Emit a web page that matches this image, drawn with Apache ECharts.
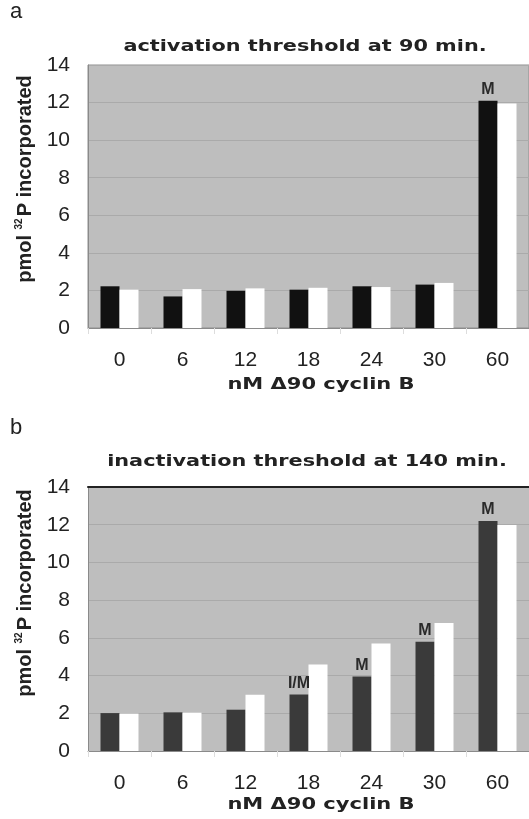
<!DOCTYPE html>
<html>
<head>
<meta charset="utf-8">
<script src="https://cdn.jsdelivr.net/npm/echarts@6/dist/echarts.min.js"></script>
<style>
html,body{margin:0;padding:0;background:#fff;}
#c{width:529px;height:819px;}
</style>
</head>
<body>
<div id="c"></div>
<script>
const categories = ['0', '6', '12', '18', '24', '30', '60'];
const activationDark = [2.22, 1.68, 1.98, 2.04, 2.22, 2.31, 12.1];
const activationWhite = [2.04, 2.07, 2.11, 2.14, 2.18, 2.40, 11.95];
const activationMarks = ['', '', '', '', '', '', 'M'];
const inactivationDark = [2.01, 2.05, 2.19, 3.0, 3.95, 5.79, 12.2];
const inactivationWhite = [1.98, 2.03, 2.98, 4.59, 5.70, 6.79, 11.98];
const inactivationMarks = ['', '', '', 'I/M', 'M', 'M', 'M'];
const yMin = 0, yMax = 14, yStep = 2;
const titleA = 'activation threshold at 90 min.';
const titleB = 'inactivation threshold at 140 min.';
const xName = 'nM Δ90 cyclin B';

const FONT = '"Liberation Sans", Arial, sans-serif';
const BOLD = '"DejaVu Sans", "Liberation Sans", sans-serif';

const chart = echarts.init(document.getElementById('c'), null, {renderer: 'canvas'});

function yAxisCfg(gi) {
  return {
    type: 'value', gridIndex: gi, min: yMin, max: yMax, interval: yStep,
    axisLine: {show: true, lineStyle: {color: '#8a8a8a', width: 1}},
    axisTick: {show: false},
    axisLabel: {fontSize: 21, color: '#222', fontFamily: FONT, margin: 18},
    splitLine: {show: true, lineStyle: {color: '#aaaaaa', width: 1}}
  };
}
function xAxisCfg(gi) {
  return {
    type: 'category', gridIndex: gi, data: categories,
    axisLine: {show: true, lineStyle: {color: '#8a8a8a', width: 1}},
    axisTick: {show: true, length: 6, lineStyle: {color: '#dddddd'}},
    axisLabel: {fontSize: 21, color: '#222', fontFamily: FONT, margin: 22},
    splitLine: {show: false}
  };
}
function labelCfg(marks) {
  return {
    show: true, position: 'top', distance: 3,
    fontSize: 16, fontWeight: 'bold', color: '#2a2a2a', fontFamily: FONT,
    formatter: p => marks[p.dataIndex]
  };
}
function txt(x, y, text, size, sx) {
  return {type: 'text', x: x, y: y, scaleX: sx,
    style: {text: text, fontSize: size, fontWeight: 'bold', fontFamily: BOLD, fill: '#222', align: 'center', verticalAlign: 'middle'}};
}
function yName(y) {
  return {type: 'text', x: 25, y: y, rotation: Math.PI / 2,
    style: {text: '{a|pmol }{s|32}{a|P incorporated}', align: 'center', verticalAlign: 'middle', fill: '#222',
      rich: {a: {fontSize: 20, fontWeight: 'bold', fontFamily: FONT, fill: '#222'},
             s: {fontSize: 10, fontWeight: 'bold', fontFamily: FONT, fill: '#222', padding: [0, 2, 11, 0]}}}};
}

const option = {
  animation: false,
  backgroundColor: '#ffffff',
  grid: [
    {left: 88, top: 65, width: 441, height: 263, show: true, backgroundColor: '#bebebe', borderColor: '#8f8f8f', borderWidth: 1},
    {left: 88, top: 487, width: 441, height: 264, show: true, backgroundColor: '#bebebe', borderWidth: 0}
  ],
  xAxis: [
    xAxisCfg(0), xAxisCfg(1),
    {type: 'category', gridIndex: 1, position: 'top', data: categories,
     axisLine: {show: true, lineStyle: {color: '#222', width: 2}},
     axisTick: {show: false}, axisLabel: {show: false}}
  ],
  yAxis: [yAxisCfg(0), yAxisCfg(1)],
  series: [
    {type: 'bar', xAxisIndex: 0, yAxisIndex: 0, data: activationDark, barWidth: 19, barGap: '0%',
     itemStyle: {color: '#111111'}, label: labelCfg(activationMarks)},
    {type: 'bar', xAxisIndex: 0, yAxisIndex: 0, data: activationWhite, barWidth: 19, barGap: '0%',
     itemStyle: {color: '#ffffff'}},
    {type: 'bar', xAxisIndex: 1, yAxisIndex: 1, data: inactivationDark, barWidth: 19, barGap: '0%',
     itemStyle: {color: '#3a3a3a'}, label: labelCfg(inactivationMarks)},
    {type: 'bar', xAxisIndex: 1, yAxisIndex: 1, data: inactivationWhite, barWidth: 19, barGap: '0%',
     itemStyle: {color: '#ffffff'}}
  ],
  graphic: [
    {type: 'text', left: 10, top: 1, style: {text: 'a', fontSize: 22, fontFamily: FONT, fill: '#222'}},
    {type: 'text', left: 10, top: 417, style: {text: 'b', fontSize: 22, fontFamily: FONT, fill: '#222'}},
    txt(305, 47, titleA, 16, 1.3),
    txt(307, 462, titleB, 16, 1.3),
    txt(321, 385, xName, 15, 1.4),
    txt(321, 805, xName, 15, 1.4),
    yName(179),
    yName(593)
  ]
};
chart.setOption(option);
</script>
</body>
</html>
